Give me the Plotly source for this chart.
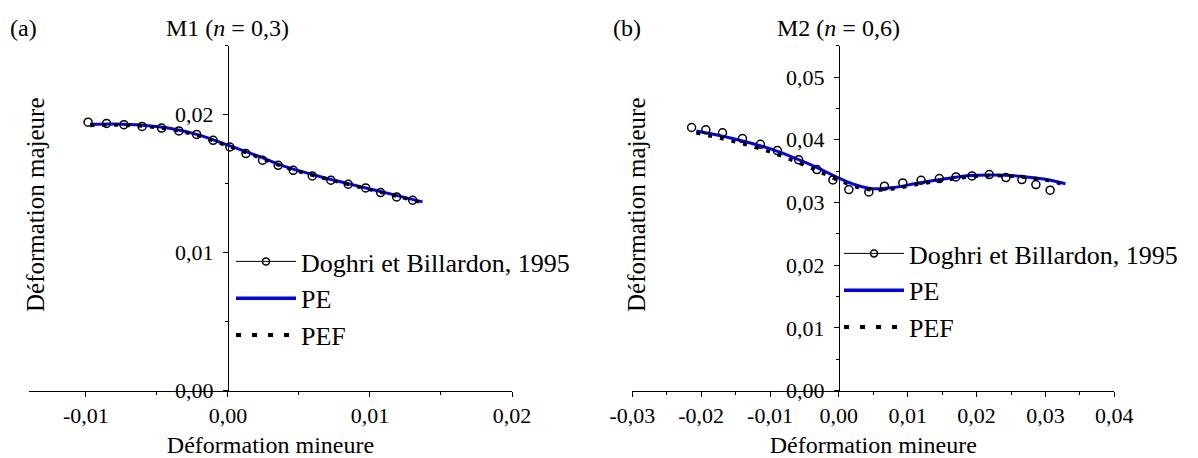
import plotly.graph_objects as go

W, H = 1198, 458
FONT = "Liberation Serif, Times New Roman, Times, DejaVu Serif, serif"

# (a) M1, n = 0,3
m1_exp_x = [-0.00984, -0.00854, -0.00732, -0.00604, -0.00467, -0.00345, -0.0022, -0.00104,
            0.00014, 0.00127, 0.00244, 0.00354, 0.0046, 0.00594, 0.00725, 0.00847,
            0.0097, 0.01075, 0.01188, 0.01301]
m1_exp_y = [0.01946, 0.01937, 0.01928, 0.01915, 0.01903, 0.01882, 0.01857, 0.01814,
            0.01766, 0.01718, 0.0167, 0.01633, 0.01597, 0.01556, 0.01525, 0.01496,
            0.01469, 0.01436, 0.01404, 0.0138]
m1_pe_x = [-0.0097, -0.008, -0.006, -0.004, -0.002, 0.0, 0.002, 0.004, 0.006, 0.008, 0.010, 0.012, 0.0137]
m1_pe_y = [0.01930, 0.01932, 0.01924, 0.01900, 0.01852, 0.01780, 0.01705, 0.01625,
           0.01565, 0.01512, 0.01462, 0.01412, 0.01368]
m1_pef_x = [-0.0097, -0.008, -0.006, -0.004, -0.002, 0.0, 0.002, 0.004, 0.006, 0.008, 0.010, 0.012, 0.0136]
m1_pef_y = [0.01922, 0.01925, 0.01917, 0.01893, 0.01845, 0.01773, 0.01698, 0.01619,
            0.01560, 0.01507, 0.01457, 0.01407, 0.01364]

# (b) M2, n = 0,6
m2_exp_x = [-0.02139, -0.01932, -0.0169, -0.014, -0.01139, -0.00893, -0.00584, -0.00319,
            -0.00087, 0.00145, 0.00435, 0.00662, 0.00928, 0.01194, 0.01459, 0.01701,
            0.01933, 0.02184, 0.02426, 0.02658, 0.02861, 0.03068]
m2_exp_y = [0.04196, 0.04159, 0.04112, 0.04019, 0.03928, 0.03828, 0.0368, 0.03525,
            0.0336, 0.03207, 0.03169, 0.0326, 0.03312, 0.03355, 0.03382, 0.03408,
            0.03424, 0.03446, 0.03398, 0.03366, 0.03287, 0.03196]
m2_pe_x = [-0.0207, -0.017, -0.0134, -0.0098, -0.0062, -0.003, -0.0004, 0.0025, 0.0049,
           0.008, 0.0115, 0.015, 0.019, 0.0225, 0.0262, 0.030, 0.0329]
m2_pe_y = [0.0414, 0.0406, 0.03965, 0.0385, 0.0370, 0.0355, 0.0341, 0.0328, 0.0322,
           0.0324, 0.0331, 0.0337, 0.0343, 0.0344, 0.0342, 0.0337, 0.0330]
m2_pef_x = [-0.0207, -0.017, -0.0134, -0.0098, -0.0062, -0.003, -0.0004, 0.0025, 0.0049,
            0.008, 0.0115, 0.015, 0.019, 0.0225, 0.0262, 0.030, 0.0322]
m2_pef_y = [0.0411, 0.0402, 0.0392, 0.0380, 0.0365, 0.0350, 0.0337, 0.0325, 0.0320,
            0.0322, 0.0329, 0.0335, 0.0341, 0.0343, 0.0341, 0.0336, 0.0330]

x1_ticks = [-0.01, 0.0, 0.01, 0.02]
x1_text = ["-0,01", "0,00", "0,01", "0,02"]
y1_ticks = [0.0, 0.01, 0.02]
y1_text = ["0,00", "0,01", "0,02"]
x2_ticks = [-0.03, -0.02, -0.01, 0.0, 0.01, 0.02, 0.03, 0.04]
x2_text = ["-0,03", "-0,02", "-0,01", "0,00", "0,01", "0,02", "0,03", "0,04"]
y2_ticks = [0.0, 0.01, 0.02, 0.03, 0.04, 0.05]
y2_text = ["0,00", "0,01", "0,02", "0,03", "0,04", "0,05"]

x1_range = [-0.014, 0.02]
y1_range = [0, 0.025]
x2_range = [-0.03, 0.04]
y2_range = [0, 0.055]

names = ["Doghri et Billardon, 1995", "PE", "PEF"]

# plot areas in pixels
x1_dom = [29 / W, 512 / W]
x2_dom = [632.3 / W, 1114.3 / W]
y_dom = [1 - 390.7 / H, 1 - 45.7 / H]


def zero_pos(dom, rng):
    return dom[0] + (0 - rng[0]) / (rng[1] - rng[0]) * (dom[1] - dom[0])


fig = go.Figure()

panels = [
    ("x", "y", "legend", m1_exp_x, m1_exp_y, m1_pe_x, m1_pe_y, m1_pef_x, m1_pef_y),
    ("x2", "y2", "legend2", m2_exp_x, m2_exp_y, m2_pe_x, m2_pe_y, m2_pef_x, m2_pef_y),
]
for xa, ya, lg, ex, ey, px, py, fx, fy in panels:
    fig.add_trace(go.Scatter(x=px, y=py, mode="lines", line=dict(color="#0000ff", width=3, shape="spline"),
                             xaxis=xa, yaxis=ya, showlegend=False))
    fig.add_trace(go.Scatter(x=fx, y=fy, mode="lines",
                             line=dict(color="black", width=3.5, dash="4px,8px", shape="spline"),
                             xaxis=xa, yaxis=ya, showlegend=False))
    fig.add_trace(go.Scatter(x=ex, y=ey, mode="markers",
                             marker=dict(symbol="circle-open", size=8, color="black", line=dict(width=1.5)),
                             xaxis=xa, yaxis=ya, showlegend=False))
    # legend entries
    fig.add_trace(go.Scatter(x=[None], y=[None], mode="lines+markers", name=names[0],
                             line=dict(color="black", width=1),
                             marker=dict(symbol="circle-open", size=7, color="black", line=dict(width=1.5)),
                             xaxis=xa, yaxis=ya, legend=lg))
    fig.add_trace(go.Scatter(x=[None], y=[None], mode="lines", name=names[1],
                             line=dict(color="#0000ff", width=3.5), xaxis=xa, yaxis=ya, legend=lg))
    fig.add_trace(go.Scatter(x=[None], y=[None], mode="lines", name=names[2],
                             line=dict(color="black", width=4, dash="5px,11px"), xaxis=xa, yaxis=ya, legend=lg))

tickfont = dict(family=FONT, size=22, color="black")
titlefont = dict(family=FONT, size=24, color="black")


def xaxis(dom, rng, tv, tt, anchor):
    return dict(domain=dom, range=rng, anchor=anchor, showline=True, linecolor="black", linewidth=1,
                ticks="outside", ticklen=5, tickcolor="black", tickvals=tv, ticktext=tt,
                tickfont=tickfont, showgrid=False, zeroline=False, automargin=False,
                minor=dict(dtick=0.005, tick0=0, ticks="outside", ticklen=3, tickcolor="black"),
                title=dict(text="Déformation mineure", font=titlefont, standoff=18))


def yaxis(dom, rng, tv, tt, pos):
    return dict(domain=dom, range=rng, anchor="free", position=pos, showline=True, linecolor="black",
                linewidth=1, ticks="outside", ticklen=5, tickcolor="black", tickvals=tv, ticktext=tt,
                tickfont=tickfont, showgrid=False, zeroline=False, automargin=False, ticklabelstandoff=5,
                minor=dict(dtick=0.005, tick0=0, ticks="outside", ticklen=3, tickcolor="black"))


legend_common = dict(xanchor="left", yanchor="top", bgcolor="rgba(0,0,0,0)", itemwidth=60,
                     font=dict(family=FONT, size=26, color="black"), tracegroupgap=0)

fig.update_layout(
    width=W, height=H, margin=dict(l=0, r=0, t=0, b=0, autoexpand=False),
    paper_bgcolor="white", plot_bgcolor="white",
    font=dict(family=FONT, color="black"),
    xaxis=xaxis(x1_dom, x1_range, x1_ticks, x1_text, "y"),
    yaxis=yaxis(y_dom, y1_range, y1_ticks, y1_text, zero_pos(x1_dom, x1_range)),
    xaxis2=xaxis(x2_dom, x2_range, x2_ticks, x2_text, "y2"),
    yaxis2=yaxis(y_dom, y2_range, y2_ticks, y2_text, zero_pos(x2_dom, x2_range)),
    legend=dict(x=231 / W, y=1 - 238 / H, **legend_common),
    legend2=dict(x=839 / W, y=1 - 230 / H, **legend_common),
)

annots = [
    dict(text="(a)", x=8 / W, xref="paper", xanchor="left"),
    dict(text="M1 (<i>n</i> = 0,3)", x=0, xref="x", xanchor="center"),
    dict(text="(b)", x=611 / W, xref="paper", xanchor="left"),
    dict(text="M2 (<i>n</i> = 0,6)", x=0, xref="x2", xanchor="center"),
]
for a in annots:
    fig.add_annotation(y=1 - 28 / H, yref="paper", yanchor="middle", showarrow=False,
                       font=titlefont, **a)

for xp in [35 / W, 636 / W]:
    fig.add_annotation(text="Déformation majeure", x=xp, y=1 - 205 / H, xref="paper", yref="paper",
                       xanchor="center", yanchor="middle", textangle=-90, showarrow=False,
                       font=dict(family=FONT, size=25, color="black"))

# drop the default page margin so the figure sits at the window's corner
fig.write_html("out.html", config={"displayModeBar": False},
               post_script="document.body.style.margin='0px';")
